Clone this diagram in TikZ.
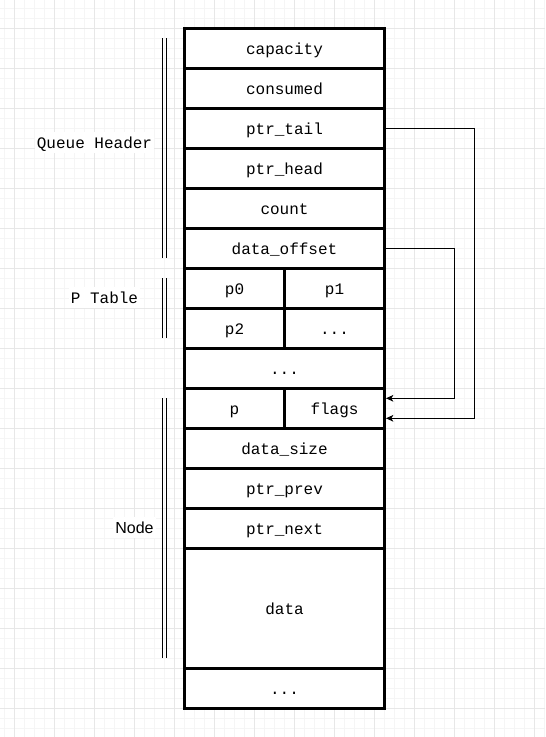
\documentclass[tikz,border=0pt]{standalone}
\usepackage{fontspec}
\setmonofont{Liberation Mono}
\setsansfont{Liberation Sans}
\usetikzlibrary{arrows.meta,calc}
\definecolor{gridminor}{RGB}{245,245,245}
\definecolor{gridmajor}{RGB}{231,231,231}
\tikzset{
  cell/.style={draw, line width=2.25pt, fill=white, inner sep=0pt,
    minimum width=150pt, minimum height=30pt, text height=11pt, text depth=2pt,
    font=\ttfamily\fontsize{12}{14}\selectfont},
  halfcell/.style={cell, minimum width=75pt},
  tag/.style={fill=white, inner sep=1.5pt, text height=11pt, text depth=2pt,
    font=\ttfamily\fontsize{12}{14}\selectfont},
  bar/.style={line width=0.75pt},
  ptr/.style={line width=0.75pt, -{Stealth[length=5.5pt,width=5pt,inset=1.5pt]}}
}
\def\membar#1#2{
  \draw[bar] (162.5,#1) -- (162.5,#2);
  \draw[bar] (166.5,#1) -- (166.5,#2);
}

\begin{document}
\begin{tikzpicture}[x=0.75pt, y=-0.75pt]
  \useasboundingbox (0,0) rectangle (545,737);
  \fill[white] (0,0) rectangle (545,737);
  % grid
  \foreach \x in {4.3,14.3,...,545} \draw[gridminor, line width=0.75pt] (\x,0) -- (\x,737);
  \foreach \y in {8.3,18.3,...,737} \draw[gridminor, line width=0.75pt] (0,\y) -- (545,\y);
  \foreach \x in {14.3,54.3,...,545} \draw[gridmajor, line width=0.75pt] (\x,0) -- (\x,737);
  \foreach \y in {28.3,68.3,...,737} \draw[gridmajor, line width=0.75pt] (0,\y) -- (545,\y);

  % queue header
  \foreach \name/\txt [count=\i] in {cap/capacity, cons/consumed, tail/ptr\_tail,
      head/ptr\_head, count/count, offset/data\_offset}
    \node[cell] (\name) at (284.5, 8.3+40*\i) {\txt};

  % p table
  \node[halfcell] (p0) at (234.5,288.3) {p0};
  \node[halfcell] (p1) at (334.5,288.3) {p1};
  \node[halfcell] (p2) at (234.5,328.3) {p2};
  \node[halfcell] (pmore) at (334.5,328.3) {...};
  \node[cell] (gap) at (284.5,368.3) {...};

  % node
  \node[halfcell] (p) at (234.5,408.3) {p};
  \node[halfcell] (flags) at (334.5,408.3) {flags};
  \node[cell] (size) at (284.5,448.3) {data\_size};
  \node[cell] (prev) at (284.5,488.3) {ptr\_prev};
  \node[cell] (next) at (284.5,528.3) {ptr\_next};
  \node[cell, minimum height=90pt] (data) at (284.5,608.3) {data};
  \node[cell] (rest) at (284.5,688.3) {...};

  % brackets and labels
  \membar{38.3}{258.3}
  \membar{278.3}{338.3}
  \membar{398.3}{658.3}
  \node[tag] (qhlabel) at (94.5,142.3) {Queue Header};
  \node[tag] (ptlabel) at (104.5,297.5) {P Table};
  \node[tag, font=\sffamily\fontsize{12}{14}\selectfont] (nodelabel) at (134.5,527.3) {Node};

  % pointers
  \coordinate (offin) at ($(flags.east)+(0,-10)$);
  \coordinate (tailin) at ($(flags.east)+(0,10)$);
  \draw[ptr] (tail.east) -- ++(88.5,0) |- (tailin);
  \draw[ptr] (offset.east) -- ++(68.5,0) |- (offin);
\end{tikzpicture}
\end{document}
